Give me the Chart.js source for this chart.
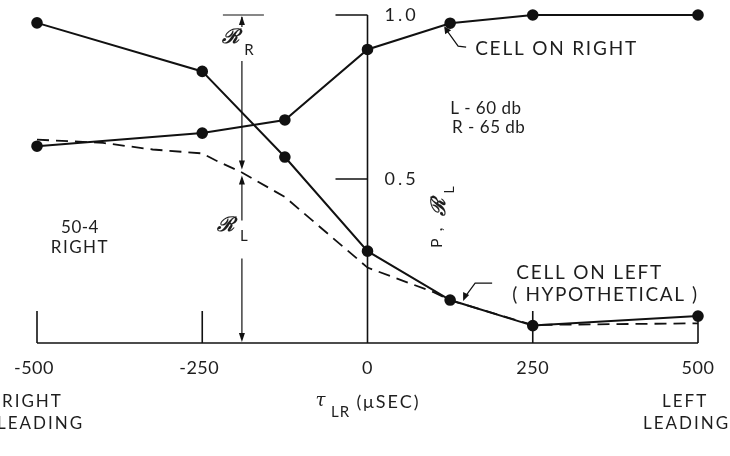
<!DOCTYPE html>
<html>
<head>
<meta charset="utf-8">
<script src="https://cdn.jsdelivr.net/npm/chart.js@4.4.0/dist/chart.umd.min.js"></script>
<style>
  html, body { margin: 0; padding: 0; background: #fff; }
  #wrap { width: 730px; height: 456px; }
</style>
</head>
<body>
<div id="wrap"><canvas id="chart" width="730" height="456"></canvas></div>
<script>
// --- data ---
const xTicks = [-500, -250, 0, 250, 500];
const yTicks = [0.5, 1.0];
const tau = [-500, -250, -125, 0, 125, 250, 500];
const cellRight = [0.60, 0.64, 0.68, 0.895, 0.975, 1.0, 1.0];
const cellLeft = [0.976, 0.828, 0.567, 0.28, 0.131, 0.053, 0.082];
const hypoTau = [-500, -400, -325, -250, -230, -190, -125, 0, 100, 125, 250, 500];
const hypoLeft = [0.62, 0.61, 0.59, 0.578, 0.557, 0.52, 0.445, 0.23, 0.155, 0.13, 0.055, 0.06];
const markTau = -190;   // where the R_R / R_L arrows sit

const INK = '#111';
const TXT = '#1e1e1e';
const FONT = 'Lato, "Open Sans", sans-serif';

const pts = (xs, ys) => xs.map((x, i) => ({ x, y: ys[i] }));

function arrowHead(ctx, x, y, dir) {
    const d = dir === 'up' ? 1 : -1;
    ctx.beginPath();
    ctx.moveTo(x, y);
    ctx.lineTo(x - 3, y + d * 9);
    ctx.lineTo(x + 3, y + d * 9);
    ctx.closePath();
    ctx.fill();
}

function line(ctx, x1, y1, x2, y2) {
    ctx.beginPath();
    ctx.moveTo(x1, y1);
    ctx.lineTo(x2, y2);
    ctx.stroke();
}

function text(ctx, s, x, y, size, align, spacing) {
    ctx.font = size + 'px ' + FONT;
    ctx.textAlign = align || 'center';
    ctx.textBaseline = 'middle';
    ctx.letterSpacing = (spacing || 0) + 'px';
    ctx.fillText(s, x, y);
    ctx.letterSpacing = '0px';
}

function scriptR(ctx, x, y, size) {
    ctx.font = 'bold italic ' + size + 'px "DejaVu Serif", serif';
    ctx.textAlign = 'center';
    ctx.textBaseline = 'middle';
    ctx.fillText('\u211B', x, y);
}

const framePlugin = {
    id: 'frame',
    afterDatasetsDraw(chart) {
        const ctx = chart.ctx;
        const xs = chart.scales.x, ys = chart.scales.y;
        const X = v => xs.getPixelForValue(v);
        const Y = v => ys.getPixelForValue(v);
        const y0 = Y(0), y1 = Y(1), x0 = X(0);

        ctx.save();
        ctx.strokeStyle = INK;
        ctx.fillStyle = INK;
        ctx.lineWidth = 1.6;

        // axes
        line(ctx, X(xTicks[0]), y0, X(xTicks[xTicks.length - 1]), y0);
        line(ctx, x0, y0, x0, y1);

        // y ticks (pointing left of the center axis)
        yTicks.forEach(v => line(ctx, x0 - 32, Y(v), x0, Y(v)));

        // x ticks (pointing up)
        xTicks.forEach((v, i) => {
            if (v === 0) return;
            const top = i === xTicks.length - 1 ? Y(cellLeft[cellLeft.length - 1]) : y0 - 32;
            line(ctx, X(v), y0, X(v), top);
        });

        // R_R / R_L markers
        ctx.lineWidth = 1.2;
        const mx = X(markTau);
        const yc = Y(hypoLeft[hypoTau.indexOf(markTau)]);
        line(ctx, mx - 19, y1, mx + 22, y1);
        line(ctx, mx, y1 + 2, mx, y1 + 12);
        arrowHead(ctx, mx, y1 + 1, 'up');
        line(ctx, mx, y1 + 46, mx, yc - 6);
        arrowHead(ctx, mx, yc - 3, 'down');
        line(ctx, mx, yc + 6, mx, yc + 48);
        arrowHead(ctx, mx, yc + 3, 'up');
        line(ctx, mx, yc + 86, mx, y0 - 4);
        arrowHead(ctx, mx, y0 - 1, 'down');

        ctx.fillStyle = TXT;
        scriptR(ctx, mx - 11, y1 + 23, 20);
        text(ctx, 'R', mx + 7, y1 + 35, 15);
        scriptR(ctx, mx - 16, yc + 53, 20);
        text(ctx, 'L', mx + 2, yc + 64, 15);

        // leader for CELL ON RIGHT
        ctx.fillStyle = INK;
        const pr = { x: X(tau[4]), y: Y(cellRight[4]) };
        ctx.beginPath();
        ctx.moveTo(pr.x - 5, pr.y + 5);
        ctx.lineTo(pr.x + 8, pr.y + 23);
        ctx.lineTo(pr.x + 16, pr.y + 24);
        ctx.stroke();
        ctx.beginPath();
        ctx.moveTo(pr.x - 6, pr.y + 3);
        ctx.lineTo(pr.x - 5, pr.y + 11);
        ctx.lineTo(pr.x + 1, pr.y + 7);
        ctx.closePath();
        ctx.fill();

        // leader for CELL ON LEFT
        const pl = { x: X(tau[4]) + 14, y: Y(cellLeft[4]) + 1 };
        ctx.beginPath();
        ctx.moveTo(pl.x, pl.y - 3);
        ctx.lineTo(pl.x + 11, pl.y - 18);
        ctx.lineTo(pl.x + 28, pl.y - 18);
        ctx.stroke();
        ctx.beginPath();
        ctx.moveTo(pl.x - 1, pl.y);
        ctx.lineTo(pl.x - 1, pl.y - 9);
        ctx.lineTo(pl.x + 5, pl.y - 6);
        ctx.closePath();
        ctx.fill();

        // tick labels
        ctx.fillStyle = TXT;
        xTicks.forEach(v => text(ctx, v < 0 ? '-' + Math.abs(v) : String(v), X(v) + (v < 0 ? -3 : 0), y0 + 25, 18, 'center', 0.5));
        yTicks.forEach(v => text(ctx, v.toFixed(1), x0 + 17, Y(v), 18, 'left', 3));

        // annotations
        text(ctx, 'CELL ON RIGHT', pr.x + 25, pr.y + 26, 19, 'left', 1.8);
        text(ctx, 'L - 60 db', X(125), Y(0.714), 17, 'left', 0.5);
        text(ctx, 'R - 65 db', X(128), Y(0.657), 17, 'left', 0.5);
        text(ctx, 'CELL ON LEFT', X(225), Y(0.213), 19, 'left', 1.8);
        text(ctx, '( HYPOTHETICAL )', X(219), Y(0.146), 19, 'left', 1.6);
        text(ctx, '50-4', X(-435), Y(0.353), 17, 'center', 0.5);
        text(ctx, 'RIGHT', X(-435), Y(0.29), 17, 'center', 1.5);

        text(ctx, 'RIGHT', 2, y0 + 59, 17, 'left', 2);
        text(ctx, 'LEADING', -3, y0 + 81, 17, 'left', 2);
        text(ctx, 'LEFT', 662, y0 + 59, 17, 'left', 2);
        text(ctx, 'LEADING', 643, y0 + 81, 17, 'left', 2);

        // tau_LR (mu SEC)
        ctx.font = 'italic 18px "DejaVu Serif", serif';
        ctx.textAlign = 'center';
        ctx.textBaseline = 'middle';
        ctx.fillText('\u03C4', x0 - 47, y0 + 58);
        text(ctx, 'LR', x0 - 27, y0 + 69, 15, 'center', 1);
        text(ctx, '(\u03BCSEC)', x0 + 21, y0 + 59, 18, 'center', 2);

        // rotated y label: P, R_L
        ctx.translate(437, Y(0.29));
        ctx.rotate(-Math.PI / 2);
        text(ctx, 'P ,', 0, 0, 16, 'left', 1.5);
        scriptR(ctx, 40, 3, 20);
        text(ctx, 'L', 58, 12, 14, 'center');
        ctx.restore();
    }
};

const common = {
    showLine: true,
    borderColor: INK,
    backgroundColor: INK,
    pointBackgroundColor: INK,
    pointBorderColor: INK,
    borderWidth: 2,
    tension: 0,
    clip: false
};

new Chart(document.getElementById('chart'), {
    type: 'scatter',
    data: {
        datasets: [
            Object.assign({ label: 'Cell on right', data: pts(tau, cellRight), pointRadius: 4.8 }, common),
            Object.assign({ label: 'Cell on left', data: pts(tau, cellLeft), pointRadius: 4.8 }, common),
            Object.assign({}, common, {
                label: 'Cell on left (hypothetical)',
                data: pts(hypoTau, hypoLeft),
                pointRadius: 0,
                borderWidth: 1.8,
                borderDash: [12, 7]
            })
        ]
    },
    options: {
        responsive: false,
        animation: false,
        devicePixelRatio: 1,
        layout: { padding: { left: 37, right: 32, top: 15, bottom: 113 } },
        plugins: { legend: { display: false }, tooltip: { enabled: false } },
        scales: {
            x: { type: 'linear', min: -500, max: 500, display: false },
            y: { type: 'linear', min: 0, max: 1, display: false }
        }
    },
    plugins: [framePlugin]
});
</script>
</body>
</html>
